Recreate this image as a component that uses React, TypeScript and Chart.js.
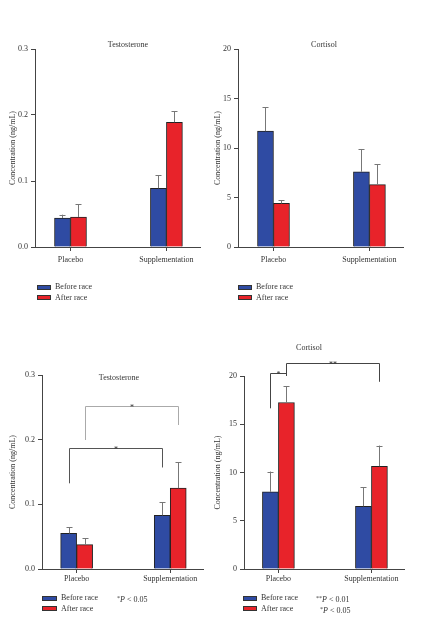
import React, { useEffect, useRef } from "react";
import { Chart, registerables } from "chart.js";

Chart.register(...registerables);

// ---------- data ----------
const categories = ["Placebo", "Supplementation"];
const seriesNames = ["Before race", "After race"];
const yAxisTitle = "Concentration (ng/mL)";

// Top row
const testoTopBefore = [0.044, 0.089];
const testoTopBeforeSD = [0.005, 0.020];
const testoTopAfter = [0.0455, 0.189];
const testoTopAfterSD = [0.019, 0.017];

const cortTopBefore = [11.7, 7.6];
const cortTopBeforeSD = [2.4, 2.3];
const cortTopAfter = [4.4, 6.3];
const cortTopAfterSD = [0.3, 2.05];

// Bottom row
const testoBotBefore = [0.055, 0.083];
const testoBotBeforeSD = [0.0098, 0.020];
const testoBotAfter = [0.0376, 0.125];
const testoBotAfterSD = [0.0098, 0.040];

const cortBotBefore = [8.0, 6.5];
const cortBotBeforeSD = [2.1, 1.98];
const cortBotAfter = [17.25, 10.65];
const cortBotAfterSD = [1.7, 2.14];

const testoTicks = [0, 0.1, 0.2, 0.3];
const cortTicks = [0, 5, 10, 15, 20];

type Bracket = {
  from: [number, number]; // [dataset, category]
  to: [number, number];
  level: number;
  fromEnd: number;
  toEnd: number;
  label: string;
  color: string;
};

const testoBotBrackets: Bracket[] = [
  { from: [0, 0], to: [0, 1], level: 0.187, fromEnd: 0.1325, toEnd: 0.157, label: "*", color: "#555" },
  { from: [1, 0], to: [1, 1], level: 0.252, fromEnd: 0.1995, toEnd: 0.2227, label: "*", color: "#aaa" },
];
const cortBotBrackets: Bracket[] = [
  { from: [0, 0], to: [1, 0], level: 20.3, fromEnd: 16.65, toEnd: 20.0, label: "*", color: "#444" },
  { from: [1, 0], to: [1, 1], level: 21.3, fromEnd: 20.0, toEnd: 19.4, label: "**", color: "#444" },
];

// ---------- style ----------
const BLUE = "#2f4ba3";
const RED = "#e8232a";
const AXIS = "#444";
const TEXT = "#333";
const FONT_FAMILY = "'Liberation Serif', 'DejaVu Serif', serif";

type PanelProps = {
  left: number;
  top: number;
  width: number;
  height: number;
  yWidth: number;
  padTop: number;
  padRight: number;
  xHeight: number;
  xLabelPad: number;
  yTicks: number[];
  decimals: number;
  before: number[];
  beforeSD: number[];
  after: number[];
  afterSD: number[];
  title: string;
  titleX: number;
  titleY: number;
  brackets: Bracket[];
};

function Panel(p: PanelProps) {
  const ref = useRef<HTMLCanvasElement | null>(null);
  useEffect(() => {
    const canvas = ref.current;
    if (!canvas) return;
    const font = { family: FONT_FAMILY, size: 8 };
    const sds = [p.beforeSD, p.afterSD];

    const errorBars = {
      id: "errorBars",
      afterDatasetsDraw(chart: any) {
        const ctx = chart.ctx;
        const y = chart.scales.y;
        ctx.save();
        ctx.strokeStyle = "#777";
        ctx.lineWidth = 1;
        chart.data.datasets.forEach((ds: any, di: number) => {
          const meta = chart.getDatasetMeta(di);
          meta.data.forEach((el: any, j: number) => {
            const v = ds.data[j].y;
            const top = y.getPixelForValue(v + sds[di][j]);
            const x = Math.round(el.x) + 0.5;
            ctx.beginPath();
            ctx.moveTo(x, el.y);
            ctx.lineTo(x, top);
            ctx.moveTo(x - 3, Math.round(top) + 0.5);
            ctx.lineTo(x + 3, Math.round(top) + 0.5);
            ctx.stroke();
          });
        });
        ctx.restore();
      },
    };

    const brackets = {
      id: "brackets",
      afterDraw(chart: any) {
        const ctx = chart.ctx;
        const y = chart.scales.y;
        ctx.save();
        ctx.lineWidth = 1;
        p.brackets.forEach((b) => {
          const x1 = Math.round(chart.getDatasetMeta(b.from[0]).data[b.from[1]].x) + 0.5;
          const x2 = Math.round(chart.getDatasetMeta(b.to[0]).data[b.to[1]].x) + 0.5;
          const yl = Math.round(y.getPixelForValue(b.level)) + 0.5;
          const y1 = y.getPixelForValue(b.fromEnd);
          const y2 = y.getPixelForValue(b.toEnd);
          ctx.strokeStyle = b.color;
          ctx.beginPath();
          ctx.moveTo(x1, y1);
          ctx.lineTo(x1, yl);
          ctx.lineTo(x2, yl);
          ctx.lineTo(x2, y2);
          ctx.stroke();
          ctx.fillStyle = TEXT;
          ctx.font = `8px ${FONT_FAMILY}`;
          ctx.textAlign = "center";
          ctx.textBaseline = "alphabetic";
          ctx.fillText(b.label, (x1 + x2) / 2, yl + 3);
        });
        ctx.restore();
      },
    };

    const titlePlugin = {
      id: "panelTitle",
      afterDraw(chart: any) {
        const ctx = chart.ctx;
        ctx.save();
        ctx.fillStyle = TEXT;
        ctx.font = `8px ${FONT_FAMILY}`;
        ctx.textAlign = "center";
        ctx.textBaseline = "middle";
        ctx.fillText(p.title, p.titleX - p.left, p.titleY - p.top);
        ctx.restore();
      },
    };

    const catLabel = (v: any) => {
      const n = Number(v);
      if (Math.abs(n - Math.round(n)) > 1e-6) return undefined;
      return categories[Math.round(n)];
    };

    const chart = new Chart(canvas, {
      type: "bar",
      data: {
        datasets: [
          {
            label: seriesNames[0],
            data: p.before.map((v, i) => ({ x: i, y: v })),
            backgroundColor: BLUE,
            borderColor: "#222",
            borderWidth: 1,
            barThickness: 16,
          } as any,
          {
            label: seriesNames[1],
            data: p.after.map((v, i) => ({ x: i, y: v })),
            backgroundColor: RED,
            borderColor: "#222",
            borderWidth: 1,
            barThickness: 16,
          } as any,
        ],
      },
      options: {
        animation: false,
        responsive: false,
        maintainAspectRatio: false,
        layout: { padding: { top: p.padTop, right: p.padRight, left: 0, bottom: 0 } },
        plugins: {
          legend: { display: false },
          tooltip: { enabled: false },
          title: { display: false },
        },
        scales: {
          x: {
            type: "linear",
            min: -0.37,
            max: 1.35,
            offset: false,
            afterBuildTicks: (s: any) => {
              s.ticks = categories.map((_, i) => ({ value: i }));
            },
            afterFit: (s: any) => {
              s.height = p.xHeight;
            },
            ticks: {
              stepSize: 1,
              includeBounds: false,
              callback: catLabel,
              font,
              color: TEXT,
              padding: p.xLabelPad,
              maxRotation: 0,
              autoSkip: false,
            },
            grid: {
              display: true,
              offset: false,
              drawOnChartArea: false,
              drawTicks: true,
              tickLength: 4,
              color: AXIS,
            },
            border: { display: true, color: AXIS, width: 1 },
          },
          y: {
            type: "linear",
            min: p.yTicks[0],
            max: p.yTicks[p.yTicks.length - 1],
            afterBuildTicks: (s: any) => {
              s.ticks = p.yTicks.map((v) => ({ value: v }));
            },
            afterFit: (s: any) => {
              s.width = p.yWidth;
            },
            ticks: {
              stepSize: p.yTicks[1] - p.yTicks[0],
              callback: (v: any) => Number(v).toFixed(p.decimals),
              font,
              color: TEXT,
              padding: 3,
            },
            title: {
              display: true,
              text: yAxisTitle,
              font,
              color: TEXT,
              padding: { top: 8, bottom: 0 },
            },
            grid: { display: true, drawOnChartArea: false, drawTicks: true, tickLength: 4, color: AXIS },
            border: { display: true, color: AXIS, width: 1 },
          },
        },
      } as any,
      plugins: [errorBars, brackets, titlePlugin],
    });
    return () => chart.destroy();
  }, []);
  return (
    <canvas
      ref={ref}
      width={p.width}
      height={p.height}
      style={{ position: "absolute", left: p.left, top: p.top, width: p.width, height: p.height }}
    />
  );
}

const textStyle: React.CSSProperties = {
  position: "absolute",
  fontFamily: FONT_FAMILY,
  fontSize: 8,
  color: TEXT,
  lineHeight: "10px",
  height: 10,
  whiteSpace: "nowrap",
};

function Legend({ x, y, w }: { x: number; y: number; w: number }) {
  const rows = [
    { name: seriesNames[0], color: BLUE, cy: y },
    { name: seriesNames[1], color: RED, cy: y + 10.5 },
  ];
  return (
    <>
      {rows.map((r) => (
        <React.Fragment key={r.name}>
          <div
            style={{
              position: "absolute",
              left: x,
              top: r.cy - 2.5,
              width: w,
              height: 5,
              background: r.color,
              border: "1px solid #333",
              boxSizing: "border-box",
            }}
          />
          <div style={{ ...textStyle, left: x + w + 4, top: r.cy - 5 }}>{r.name}</div>
        </React.Fragment>
      ))}
    </>
  );
}

function PNote({ x, y, stars, p }: { x: number; y: number; stars: string; p: string }) {
  return (
    <div style={{ ...textStyle, left: x, top: y - 5 }}>
      <span style={{ fontSize: 6, verticalAlign: "2px" }}>{stars}</span>
      <i>P</i> &lt; {p}
    </div>
  );
}

export default function App() {
  return (
    <div style={{ position: "absolute", left: 0, top: 0, width: 442, height: 644, background: "#fff" }}>
      <Panel
        left={0} top={0} width={215} height={322}
        yWidth={35} padTop={49} padRight={15} xHeight={75} xLabelPad={4}
        yTicks={testoTicks} decimals={1}
        before={testoTopBefore} beforeSD={testoTopBeforeSD}
        after={testoTopAfter} afterSD={testoTopAfterSD}
        title="Testosterone" titleX={128} titleY={45} brackets={[]}
      />
      <Panel
        left={205} top={0} width={237} height={322}
        yWidth={33} padTop={49} padRight={39} xHeight={75} xLabelPad={4}
        yTicks={cortTicks} decimals={0}
        before={cortTopBefore} beforeSD={cortTopBeforeSD}
        after={cortTopAfter} afterSD={cortTopAfterSD}
        title="Cortisol" titleX={324} titleY={45} brackets={[]}
      />
      <Panel
        left={0} top={322} width={215} height={322}
        yWidth={42} padTop={53} padRight={12} xHeight={75} xLabelPad={1}
        yTicks={testoTicks} decimals={1}
        before={testoBotBefore} beforeSD={testoBotBeforeSD}
        after={testoBotAfter} afterSD={testoBotAfterSD}
        title="Testosterone" titleX={119} titleY={378} brackets={testoBotBrackets}
      />
      <Panel
        left={205} top={322} width={237} height={322}
        yWidth={39} padTop={54} padRight={38} xHeight={75} xLabelPad={1}
        yTicks={cortTicks} decimals={0}
        before={cortBotBefore} beforeSD={cortBotBeforeSD}
        after={cortBotAfter} afterSD={cortBotAfterSD}
        title="Cortisol" titleX={309} titleY={348} brackets={cortBotBrackets}
      />
      <Legend x={37} y={287} w={14} />
      <Legend x={238} y={287} w={14} />
      <Legend x={42} y={598} w={15} />
      <Legend x={243} y={598} w={14} />
      <PNote x={117} y={598} stars="*" p="0.05" />
      <PNote x={316} y={598} stars="**" p="0.01" />
      <PNote x={320} y={609} stars="*" p="0.05" />
    </div>
  );
}
